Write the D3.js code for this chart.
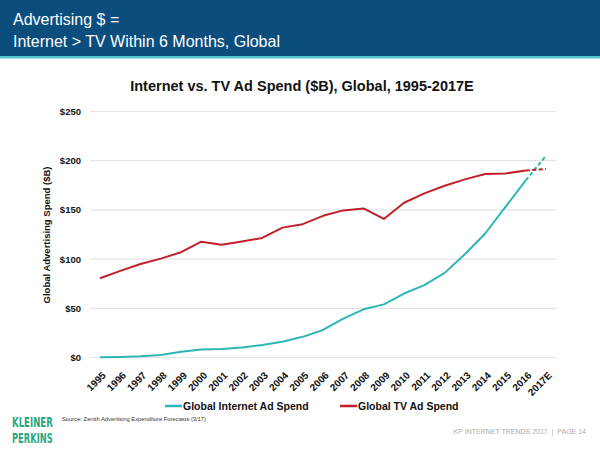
<!DOCTYPE html>
<html>
<head>
<meta charset="utf-8">
<script src="https://cdn.jsdelivr.net/npm/d3@7/dist/d3.min.js"></script>
<style>
  html, body { margin: 0; padding: 0; background: #fff; }
  svg { display: block; font-family: "Liberation Sans", Arial, sans-serif; }
</style>
</head>
<body>
<svg id="chart" width="600" height="450"></svg>
<script>
const years = ["1995","1996","1997","1998","1999","2000","2001","2002","2003","2004","2005","2006","2007","2008","2009","2010","2011","2012","2013","2014","2015","2016","2017E"];
const internetSpend = [0.3,0.6,1.2,2.6,5.9,8.2,8.7,10.2,12.6,16,21,28,39.5,49,54,65,73.5,86,105,126,153,180,205];
const tvSpend = [80.5,88,95,100.5,107,117.7,114.5,117.8,121.5,132,135.5,144,149.5,151.5,140.8,157.3,166.8,174.6,181,186.4,187,190,191.5];
const yTicks = [0,50,100,150,200,250];
const seriesNames = ["Global Internet Ad Spend","Global TV Ad Spend"];
const seriesColors = ["#2db5b7","#c1202b"];

const svg = d3.select("#chart");

// Header band
svg.append("rect").attr("x",0).attr("y",0).attr("width",600).attr("height",56).attr("fill","#0b4e7e");
svg.append("rect").attr("x",0).attr("y",56).attr("width",600).attr("height",2.5).attr("fill","#55c3cc");
svg.append("text").attr("x",13).attr("y",25).attr("fill","#fff").attr("font-size","16px").text("Advertising $ =");
svg.append("text").attr("x",13).attr("y",47).attr("fill","#fff").attr("font-size","16px").text("Internet > TV Within 6 Months, Global");

// Chart title
svg.append("text").attr("x",302).attr("y",91).attr("text-anchor","middle").attr("font-weight","bold")
  .attr("font-size","14.5px").attr("fill","#111").text("Internet vs. TV Ad Spend ($B), Global, 1995-2017E");

const x = d3.scalePoint().domain(years).range([100, 546]);
const y = d3.scaleLinear().domain([0,250]).range([357.5, 111.5]);

// Gridlines
const grid = svg.append("g");
grid.selectAll("line").data(yTicks).join("line")
  .attr("x1",90).attr("x2",556).attr("y1",d=>y(d)).attr("y2",d=>y(d))
  .attr("stroke","#e3e3e3").attr("stroke-width",1.2);

// Y axis
const yAxis = svg.append("g").attr("transform","translate(90,0)")
  .call(d3.axisLeft(y).tickValues(yTicks).tickSize(0).tickPadding(9).tickFormat(d=>"$"+d));
yAxis.select(".domain").remove();
yAxis.selectAll("text").attr("font-size","9.5px").attr("font-weight","bold").attr("fill","#111")
  .attr("font-family","Liberation Sans, Arial, sans-serif");

// Y axis title
svg.append("text").attr("transform","translate(50,235) rotate(-90)").attr("text-anchor","middle")
  .attr("font-size","9.5px").attr("font-weight","bold").attr("fill","#111").text("Global Advertising Spend ($B)");

// X axis
const xAxis = svg.append("g").attr("transform","translate(0,358)")
  .call(d3.axisBottom(x).tickSize(0).tickPadding(0));
xAxis.select(".domain").remove();
xAxis.selectAll("text").attr("font-size","10px").attr("font-weight","bold").attr("fill","#111")
  .attr("font-family","Liberation Sans, Arial, sans-serif")
  .attr("text-anchor","end").attr("dy",null)
  .attr("transform","translate(6,18) rotate(-45)");

// Lines
const nSolid = years.length - 1; // last segment (2016 -> 2017E) dashed
[internetSpend, tvSpend].forEach((vals, k) => {
  const solid = vals.slice(0, nSolid);
  svg.append("path").attr("d", d3.line().x((d,i)=>x(years[i])).y(d=>y(d))(solid))
    .attr("fill","none").attr("stroke",seriesColors[k]).attr("stroke-width",2).attr("stroke-linejoin","round");
  const dashed = vals.slice(nSolid-1);
  svg.append("path").attr("d", d3.line().x((d,i)=>x(years[i+nSolid-1])).y(d=>y(d))(dashed))
    .attr("fill","none").attr("stroke",seriesColors[k]).attr("stroke-width",2).attr("stroke-dasharray","4,2.5");
});

// Legend
const legendX = [165, 340];
seriesNames.forEach((n,k)=>{
  svg.append("line").attr("x1",legendX[k]).attr("x2",legendX[k]+17).attr("y1",406).attr("y2",406)
    .attr("stroke",seriesColors[k]).attr("stroke-width",2.5);
  svg.append("text").attr("x",legendX[k]+18).attr("y",410).attr("font-size","10.5px").attr("font-weight","bold")
    .attr("fill","#111").text(n);
});

// Footer logo (horizontally condensed)
["KLEINER","PERKINS"].forEach((w,i)=>{
  svg.append("text").attr("transform",`translate(12,${427 + i*16}) scale(0.68,1)`)
    .attr("font-family","Liberation Sans Narrow, DejaVu Sans Condensed, sans-serif")
    .attr("font-weight","bold").attr("font-size","14.2px").attr("fill","#2aa884")
    .attr("x",0).attr("y",0).attr("textLength",60).attr("lengthAdjust","spacingAndGlyphs").text(w);
});

svg.append("text").attr("x",62).attr("y",421).attr("font-size","5.8px").attr("fill","#333")
  .text("Source: Zenith Advertising Expenditure Forecasts (3/17)");
svg.append("text").attr("x",586).attr("y",434).attr("text-anchor","end").attr("font-size","7px").attr("fill","#aaa")
  .attr("xml:space","preserve").text("KP INTERNET TRENDS 2017  |  PAGE 14");
</script>
</body>
</html>
